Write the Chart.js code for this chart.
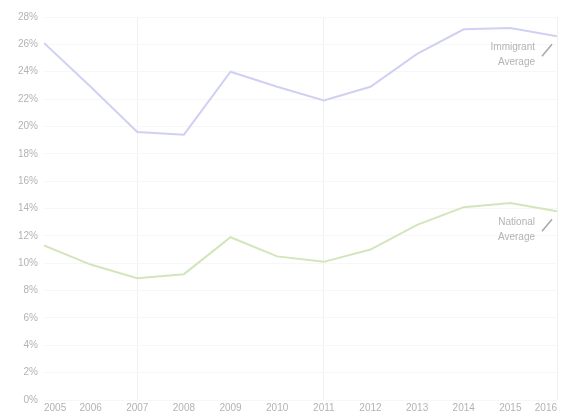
<!DOCTYPE html>
<html>
<head>
<meta charset="utf-8">
<script src="https://cdn.jsdelivr.net/npm/chart.js@4/dist/chart.umd.min.js"></script>
<style>
  html, body { margin: 0; padding: 0; background: #fff; }
  #wrap { width: 566px; height: 417px; }
</style>
</head>
<body>
<div id="wrap"><canvas id="chart"></canvas></div>
<script>
const years = [2005, 2006, 2007, 2008, 2009, 2010, 2011, 2012, 2013, 2014, 2015, 2016];
const immigrantAvg = [26.1, 22.9, 19.6, 19.4, 24.0, 22.9, 21.9, 22.9, 25.3, 27.1, 27.2, 26.6];
const nationalAvg = [11.3, 9.9, 8.9, 9.2, 11.9, 10.5, 10.1, 11.0, 12.8, 14.1, 14.4, 13.8];
const seriesNotes = [['Immigrant', 'Average'], ['National', 'Average']];
const gridYears = [2007, 2011, 2016];

const noteColor = '#b3b3b3';

// labels sit just under the last point of each line, with a small slash
const endNotes = {
  id: 'endNotes',
  afterDatasetsDraw(chart) {
    const ctx = chart.ctx;
    chart.data.datasets.forEach((ds, i) => {
      const pts = chart.getDatasetMeta(i).data;
      const last = pts[pts.length - 1];
      const lines = seriesNotes[i];
      ctx.save();
      ctx.fillStyle = noteColor;
      ctx.font = '10px "Liberation Sans", Arial, sans-serif';
      ctx.textAlign = 'right';
      ctx.textBaseline = 'middle';
      ctx.fillText(lines[0], last.x - 22, last.y + 11);
      ctx.fillText(lines[1], last.x - 22, last.y + 26);
      ctx.strokeStyle = '#a8a8a8';
      ctx.lineWidth = 1.5;
      ctx.beginPath();
      ctx.moveTo(last.x - 15, last.y + 20);
      ctx.lineTo(last.x - 5, last.y + 8);
      ctx.stroke();
      ctx.restore();
    });
  }
};

new Chart(document.getElementById('chart'), {
  type: 'line',
  data: {
    datasets: [
      {
        label: 'Immigrant Average',
        data: years.map((y, i) => ({ x: y, y: immigrantAvg[i] })),
        borderColor: '#d0d0f2',
        borderWidth: 2,
        pointRadius: 0,
        tension: 0
      },
      {
        label: 'National Average',
        data: years.map((y, i) => ({ x: y, y: nationalAvg[i] })),
        borderColor: '#d2e6bb',
        borderWidth: 2,
        pointRadius: 0,
        tension: 0
      }
    ]
  },
  options: {
    responsive: true,
    maintainAspectRatio: false,
    animation: false,
    layout: { padding: { top: 17, right: 9, left: 0, bottom: 0 } },
    plugins: {
      legend: { display: false },
      tooltip: { enabled: false }
    },
    scales: {
      x: {
        type: 'linear',
        min: 2005,
        max: 2016,
        border: { display: false },
        grid: {
          drawTicks: false,
          color: c => gridYears.includes(c.tick.value) ? '#f0f0f0' : 'rgba(0,0,0,0)'
        },
        ticks: {
          stepSize: 1,
          autoSkip: false,
          maxRotation: 0,
          align: 'inner',
          padding: 2,
          color: noteColor,
          font: { family: '"Liberation Sans", Arial, sans-serif', size: 10 },
          callback: v => String(v)
        },
        afterFit: s => { s.height = 17; }
      },
      y: {
        min: 0,
        max: 28,
        border: { display: false },
        grid: { drawTicks: false, color: '#f7f7f7' },
        ticks: {
          stepSize: 2,
          padding: 6,
          color: noteColor,
          font: { family: '"Liberation Sans", Arial, sans-serif', size: 10 },
          callback: v => v + '%'
        },
        afterFit: s => { s.width = 44; }
      }
    }
  },
  plugins: [endNotes]
});
</script>
</body>
</html>
